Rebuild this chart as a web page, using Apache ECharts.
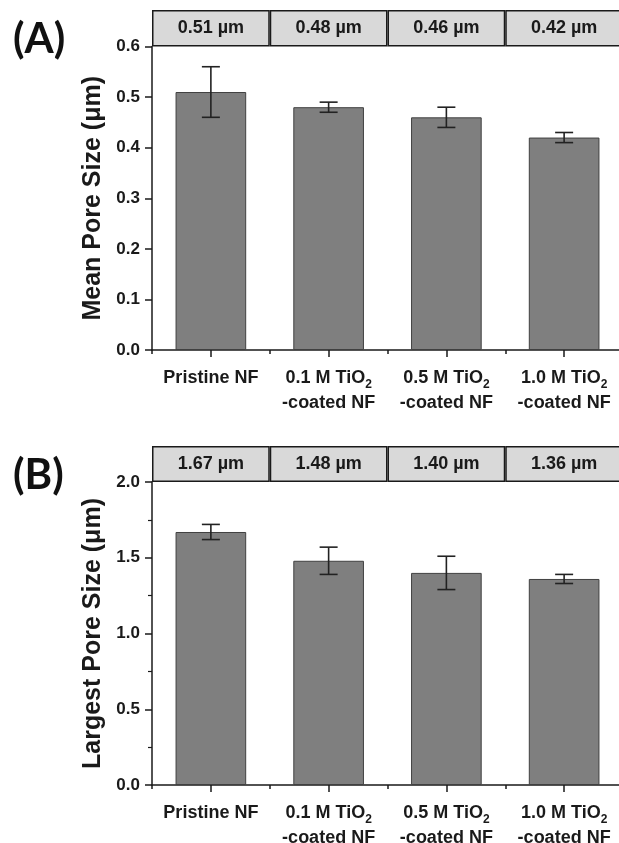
<!DOCTYPE html>
<html>
<head>
<meta charset="utf-8">
<script src="https://cdn.jsdelivr.net/npm/echarts@6/dist/echarts.min.js"></script>
<style>html,body{margin:0;padding:0;background:#fff;overflow:hidden}#c{width:619px;height:843px}</style>
</head>
<body>
<div id="c"></div>
<script>
const categories = ['Pristine NF', '0.1 M TiO2\n-coated NF', '0.5 M TiO2\n-coated NF', '1.0 M TiO2\n-coated NF'];
const meanA = [0.51, 0.48, 0.46, 0.42];
const errA = [0.05, 0.01, 0.02, 0.01];
const meanB = [1.67, 1.48, 1.40, 1.36];
const errB = [0.05, 0.09, 0.11, 0.03];
const yTicksA = {min: 0, max: 0.6, interval: 0.1};
const yTicksB = {min: 0, max: 2.0, interval: 0.5};

const FONT = '"Liberation Sans", Arial, sans-serif';
const INK = '#1a1a1a';
const L = 152, R = -4;

const chart = echarts.init(document.getElementById('c'), null, {renderer: 'canvas'});

function labelFmt(v) { return v.replace(/TiO2/g, 'TiO{s|2}'); }

function plotX(gi) {
  return [{
    type: 'category', gridIndex: gi, data: categories,
    axisLine: {show: true, lineStyle: {color: INK, width: 1.5}},
    axisTick: {show: true, alignWithLabel: true, length: 7, lineStyle: {color: INK, width: 1.5}},
    axisLabel: {
      show: true, formatter: labelFmt, color: INK, fontFamily: FONT, fontWeight: 'bold',
      fontSize: 18, lineHeight: 25, margin: 16, interval: 0,
      rich: {s: {fontSize: 12, fontWeight: 'bold', fontFamily: FONT, color: INK, verticalAlign: 'bottom', lineHeight: 16}}
    }
  }, {
    type: 'category', gridIndex: gi, data: categories, position: 'bottom',
    axisLine: {show: false},
    axisTick: {show: true, length: 4, lineStyle: {color: INK, width: 1.5}},
    axisLabel: {show: false}
  }];
}

function headerX(gi) {
  return {type: 'category', gridIndex: gi, data: categories, show: false};
}

function plotY(gi, t, name, minor) {
  return {
    type: 'value', gridIndex: gi, min: t.min, max: t.max, interval: t.interval,
    name: name, nameLocation: 'middle', nameRotate: 90, nameGap: 46,
    nameTextStyle: {fontFamily: FONT, fontWeight: 'bold', fontSize: 25, color: INK},
    axisLine: {show: true, lineStyle: {color: INK, width: 1.5}},
    axisTick: {show: true, length: 7, lineStyle: {color: INK, width: 1.5}},
    minorTick: {show: minor, splitNumber: 2, length: 4, lineStyle: {color: INK, width: 1.2}},
    splitLine: {show: false},
    axisLabel: {formatter: v => v.toFixed(1), color: INK, fontFamily: FONT, fontWeight: 'bold', fontSize: 17, margin: 12}
  };
}

function headerY(gi) {
  return {type: 'value', gridIndex: gi, min: 0, max: 1, show: false};
}

function barSeries(xi, yi, data) {
  return {
    type: 'bar', xAxisIndex: xi, yAxisIndex: yi, data: data, barWidth: '60%',
    itemStyle: {color: '#7f7f7f', borderColor: '#404040', borderWidth: 1},
    silent: true, animation: false
  };
}

function headerSeries(xi, yi, means) {
  return {
    type: 'bar', xAxisIndex: xi, yAxisIndex: yi, data: means.map(() => 1),
    barWidth: '100%', barGap: 0,
    itemStyle: {color: '#d9d9d9', borderColor: INK, borderWidth: 1.5},
    label: {show: true, position: 'inside', formatter: p => means[p.dataIndex].toFixed(2) + ' µm',
      fontFamily: FONT, fontWeight: 'bold', fontSize: 18, color: INK},
    silent: true, animation: false
  };
}

function errSeries(xi, yi, means, errs) {
  return {
    type: 'custom', xAxisIndex: xi, yAxisIndex: yi,
    data: means.map((m, i) => [i, m - errs[i], m + errs[i]]),
    renderItem: function (params, api) {
      const hi = api.coord([api.value(0), api.value(2)]);
      const lo = api.coord([api.value(0), api.value(1)]);
      const w = 9;
      const st = {stroke: '#222', lineWidth: 1.6};
      return {type: 'group', children: [
        {type: 'line', shape: {x1: hi[0], y1: hi[1], x2: lo[0], y2: lo[1]}, style: st},
        {type: 'line', shape: {x1: hi[0] - w, y1: hi[1], x2: hi[0] + w, y2: hi[1]}, style: st},
        {type: 'line', shape: {x1: lo[0] - w, y1: lo[1], x2: lo[0] + w, y2: lo[1]}, style: st}
      ]};
    },
    z: 5, silent: true, animation: false
  };
}

const letterStyle = {fontFamily: 'Lato, sans-serif', fontWeight: 'bold', fontSize: 42, color: '#111'};

const option = {
  animation: false,
  backgroundColor: '#fff',
  title: [
    {text: '(A)', left: 8, top: 13, textStyle: letterStyle},
    {text: '(B)', left: 8, top: 449, textStyle: letterStyle}
  ],
  grid: [
    {left: L, right: R, top: 46.5, height: 303.5, outerBoundsMode: 'none', containLabel: false},
    {left: L, right: R, top: 10, height: 36.5, outerBoundsMode: 'none', containLabel: false},
    {left: L, right: R, top: 482, height: 303, outerBoundsMode: 'none', containLabel: false},
    {left: L, right: R, top: 446, height: 36, outerBoundsMode: 'none', containLabel: false}
  ],
  xAxis: [].concat(plotX(0), [headerX(1)], plotX(2), [headerX(3)]),
  yAxis: [
    plotY(0, yTicksA, 'Mean Pore Size (μm)', false),
    headerY(1),
    plotY(2, yTicksB, 'Largest Pore Size (μm)', true),
    headerY(3)
  ],
  series: [
    barSeries(0, 0, meanA),
    errSeries(0, 0, meanA, errA),
    headerSeries(2, 1, meanA),
    barSeries(3, 2, meanB),
    errSeries(3, 2, meanB, errB),
    headerSeries(5, 3, meanB)
  ]
};
chart.setOption(option);
</script>
</body>
</html>
